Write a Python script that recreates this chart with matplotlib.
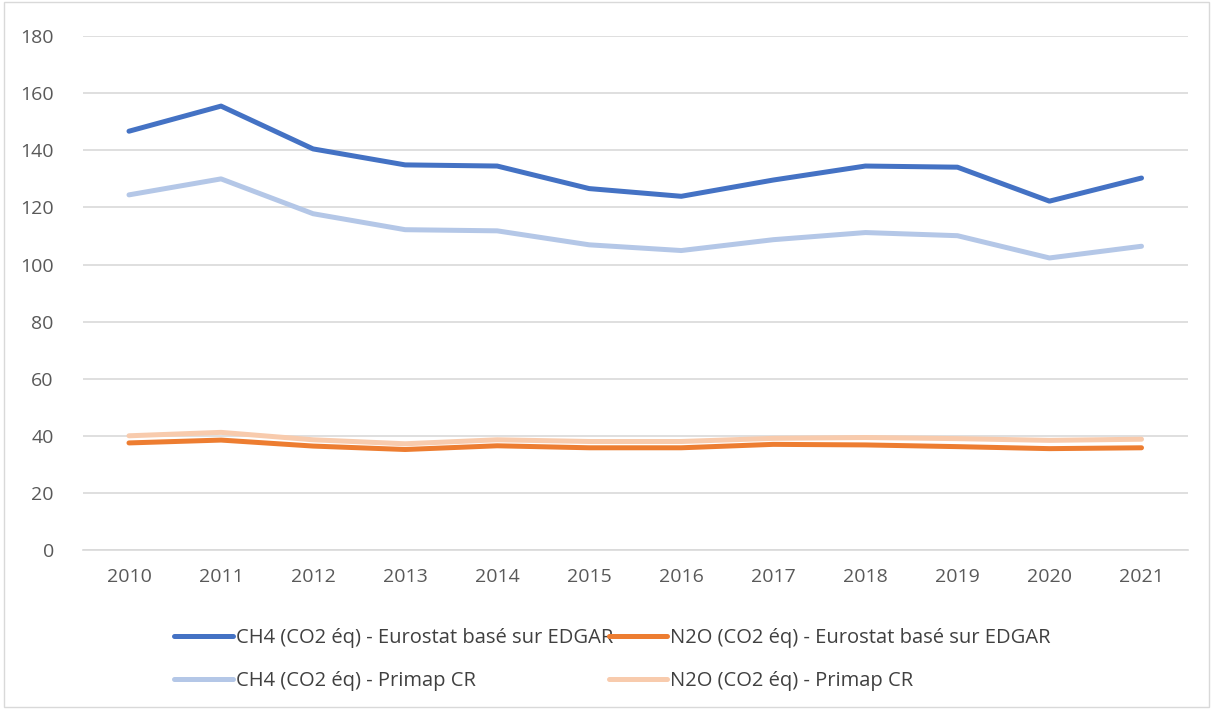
import numpy as np
import matplotlib.pyplot as plt
from matplotlib.patches import Rectangle

plt.rcParams['font.family'] = ['Open Sans', 'DejaVu Sans']

years = ["2010", "2011", "2012", "2013", "2014", "2015", "2016", "2017", "2018", "2019", "2020", "2021"]
ch4_eurostat = [146.7, 155.5, 140.5, 134.9, 134.5, 126.6, 123.9, 129.6, 134.5, 134.1, 122.2, 130.3]
n2o_eurostat = [37.5, 38.5, 36.4, 35.2, 36.5, 35.8, 35.8, 37.0, 36.8, 36.2, 35.5, 35.8]
ch4_primap = [124.4, 130.0, 117.8, 112.2, 111.8, 106.9, 104.9, 108.7, 111.2, 110.1, 102.3, 106.4]
n2o_primap = [40.0, 41.2, 38.6, 37.2, 38.6, 38.0, 38.0, 39.1, 39.4, 39.0, 38.4, 38.8]

fig = plt.figure(figsize=(12.13, 7.09), dpi=100)
ax = fig.add_axes([0.0684, 0.2243, 0.9106, 0.7247])

x = np.arange(len(years))
lw = 3.6
style = dict(lw=lw, solid_capstyle="round", solid_joinstyle="round")
l1, = ax.plot(x, ch4_eurostat, color="#4472C4", label="CH4 (CO2 éq) - Eurostat basé sur EDGAR", zorder=3, **style)
l2, = ax.plot(x, n2o_eurostat, color="#ED7D31", label="N2O (CO2 éq) - Eurostat basé sur EDGAR", zorder=3, **style)
l3, = ax.plot(x, ch4_primap, color="#B4C7E7", label="CH4 (CO2 éq) - Primap CR", zorder=2, **style)
l4, = ax.plot(x, n2o_primap, color="#F8CBAD", label="N2O (CO2 éq) - Primap CR", zorder=2, **style)

ax.set_xlim(-0.5, len(years) - 0.5)
ax.set_ylim(0, 180)
ax.set_yticks(np.arange(0, 181, 20))
ax.set_xticks(x)
ax.set_xticklabels(years)
ax.grid(axis="y", color="#D9D9D9", lw=1.2)
ax.set_axisbelow(True)
for s in ["top", "right", "left"]:
    ax.spines[s].set_visible(False)
ax.spines["bottom"].set_color("#D9D9D9")
ax.spines["bottom"].set_linewidth(1.2)
ax.tick_params(length=0, labelsize=14, colors="#595959", pad=13)
ax.tick_params(axis="y", pad=21)

# column-wise fill: l1, l3 in column 1 and l2, l4 in column 2
leg = fig.legend(handles=[l1, l3, l2, l4], ncol=2, loc="center", bbox_to_anchor=(0.505, 0.0695),
                 frameon=False, fontsize=14.5, handlelength=2.9, handletextpad=0.15,
                 columnspacing=-0.2, labelspacing=1.15)
for t in leg.get_texts():
    t.set_color("#404040")

fig.patches.append(Rectangle((0.003, 0.003), 0.994, 0.994, transform=fig.transFigure,
                             fill=False, edgecolor="#D9D9D9", lw=1))

fig.savefig("out.png", dpi=100)
